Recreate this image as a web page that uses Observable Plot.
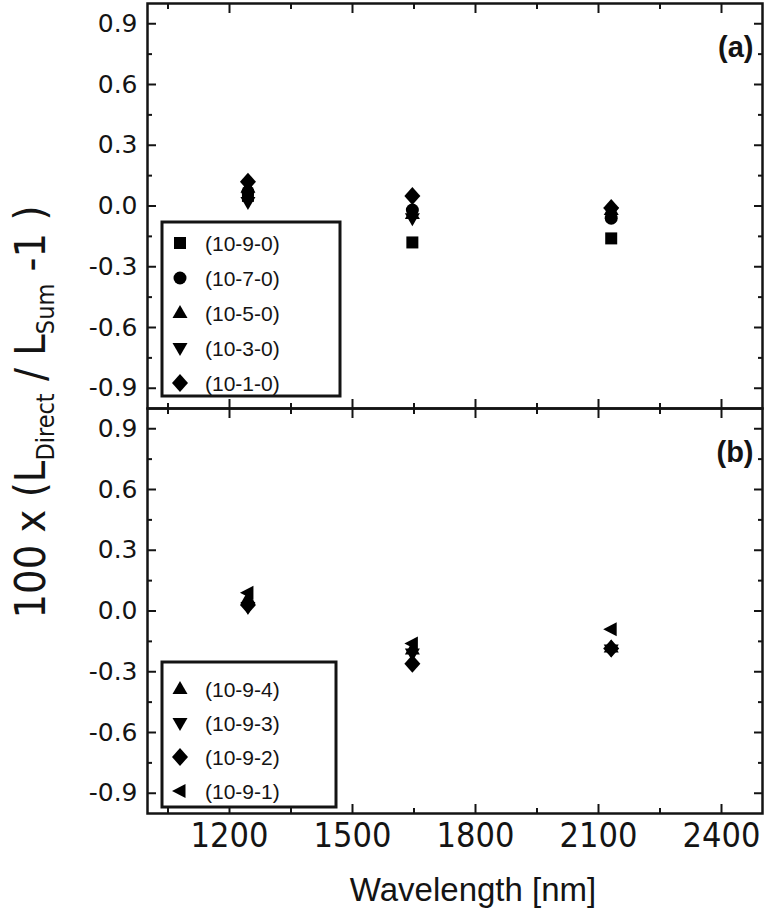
<!DOCTYPE html>
<html><head><meta charset="utf-8">
<script src="https://cdn.jsdelivr.net/npm/d3@7"></script>
<script src="https://cdn.jsdelivr.net/npm/@observablehq/plot@0.6"></script>
<style>
html,body{margin:0;padding:0;background:#fff;}
</style>
</head><body><div id="chart"></div>
<script>
// ---------- data ----------
const wavelengths = [1245, 1646, 2131];
const panelASeries = ["(10-9-0)", "(10-7-0)", "(10-5-0)", "(10-3-0)", "(10-1-0)"];
const panelAValues = [
  [0.05, -0.18, -0.16],
  [0.07, -0.02, -0.06],
  [0.09, -0.04, -0.02],
  [0.02, -0.06, -0.03],
  [0.12, 0.05, -0.01]
];
const panelBSeries = ["(10-9-4)", "(10-9-3)", "(10-9-2)", "(10-9-1)"];
const panelBValues = [
  [0.06, -0.19, -0.18],
  [0.02, -0.21, -0.19],
  [0.03, -0.26, -0.185],
  [0.09, -0.16, -0.09]
];
const panelLabels = ["(a)", "(b)"];
const xMajorTicks = [1200, 1500, 1800, 2100, 2400];
const xMinorTicks = [1050, 1350, 1650, 1950, 2250];
const yMajorTicks = [-0.9, -0.6, -0.3, 0.0, 0.3, 0.6, 0.9];
const yMinorTicks = [-0.75, -0.45, -0.15, 0.15, 0.45, 0.75];
const xLabel = "Wavelength [nm]";
const yLabelParts = ["100 x (L", "Direct", " / L", "Sum", " -1 )"];

// ---------- symbols ----------
const poly = pts => ({draw(c) { c.moveTo(pts[0][0], pts[0][1]); for (let i = 1; i < pts.length; i++) c.lineTo(pts[i][0], pts[i][1]); c.closePath(); }});
const symSquare = poly([[-6,-6],[6,-6],[6,6],[-6,6]]);
const symCircle = {draw(c) { c.moveTo(6.5, 0); c.arc(0, 0, 6.5, 0, 2 * Math.PI); }};
const symUp = poly([[0,-8],[7.5,5],[-7.5,5]]);
const symDown = poly([[0,8],[7.5,-5],[-7.5,-5]]);
const symDiamond = poly([[0,-9],[8,0],[0,9],[-8,0]]);
const symLeft = poly([[-8,0],[5.5,-7],[5.5,7]]);
const panelASymbols = [symSquare, symCircle, symUp, symDown, symDiamond];
const panelBSymbols = [symUp, symDown, symDiamond, symLeft];

const INK = "#141414";
const COND = "'DejaVu Sans Condensed', 'DejaVu Sans', sans-serif";
const SANS = "'Liberation Sans', Arial, sans-serif";

function seriesDots(panel, values, symbols) {
  return values.map((vals, k) => Plot.dot(
    wavelengths.map((w, i) => ({x: w, y: vals[i]})),
    {x: "x", y: "y", fy: () => panel, symbol: symbols[k], fill: "#000", stroke: "none", r: 5}
  ));
}

function inTicks(dim, anchor, ticks, size) {
  const o = {anchor, ticks, tickSize: size, tickFormat: () => "", facetAnchor: null, label: null, color: INK, strokeWidth: 2};
  if (anchor === "left") o.insetLeft = size;
  if (anchor === "right") o.insetRight = size;
  if (anchor === "top") o.insetTop = size;
  if (anchor === "bottom") o.insetBottom = size;
  return dim === "x" ? Plot.axisX(o) : Plot.axisY(o);
}

const plot = Plot.plot({
  width: 764, height: 913,
  marginLeft: 147, marginRight: 2, marginTop: 2, marginBottom: 100,
  x: {domain: [1000, 2500]},
  y: {domain: [-1, 1]},
  fy: {domain: ["a", "b"], padding: 0, axis: null},
  style: {background: "white", color: INK},
  marks: [
    inTicks("y", "left", yMajorTicks, 9),
    inTicks("y", "left", yMinorTicks, 5),
    inTicks("y", "right", yMajorTicks, 9),
    inTicks("y", "right", yMinorTicks, 5),
    inTicks("x", "bottom", xMajorTicks, 9),
    inTicks("x", "bottom", xMinorTicks, 5),
    inTicks("x", "top", xMajorTicks, 9),
    inTicks("x", "top", xMinorTicks, 5),
    Plot.axisY({ticks: yMajorTicks, tickSize: 0, tickPadding: 10, tickFormat: d => d.toFixed(1),
      facetAnchor: null, label: null, fontSize: 25, fontFamily: "'DejaVu Sans', sans-serif", color: INK}),
    Plot.axisX({ticks: xMajorTicks, tickSize: 0, tickPadding: 9, tickFormat: d => String(d),
      label: null, fontSize: 34, fontFamily: COND, color: INK}),
    Plot.frame({stroke: INK, strokeWidth: 2.5}),
    ...seriesDots("a", panelAValues, panelASymbols),
    ...seriesDots("b", panelBValues, panelBSymbols),
    Plot.text(panelLabels, {fy: d => d === "(a)" ? "a" : "b", frameAnchor: "top-right", textAnchor: "end",
      lineAnchor: "top", dx: -9, dy: 33, fontSize: 29, fontWeight: "bold", fontFamily: SANS, fill: INK}),
    Plot.text([xLabel], {fy: () => "b", frameAnchor: "bottom", lineAnchor: "bottom", dx: 18, dy: 87,
      fontSize: 33, fontFamily: SANS, fill: INK})
  ]
});

const svg = d3.select(plot);

// y-axis title with subscripts
const yt = svg.append("text")
  .attr("transform", "translate(45,412) rotate(-90)")
  .attr("text-anchor", "middle")
  .attr("font-family", COND).attr("font-size", 43).attr("fill", INK);
yt.append("tspan").text(yLabelParts[0]);
yt.append("tspan").attr("font-size", 25).attr("dy", 9).text(yLabelParts[1]);
yt.append("tspan").attr("dy", -9).text(yLabelParts[2]);
yt.append("tspan").attr("font-size", 25).attr("dy", 9).text(yLabelParts[3]);
yt.append("tspan").attr("dy", -9).text(yLabelParts[4]);

// legends
function legend(series, symbols, box, rows) {
  const g = svg.append("g");
  g.append("rect").attr("x", box[0]).attr("y", box[1]).attr("width", box[2]).attr("height", box[3])
    .attr("fill", "white").attr("stroke", INK).attr("stroke-width", 3);
  series.forEach((s, i) => {
    const y = rows[0] + i * rows[1];
    g.append("path").attr("d", d3.symbol(symbols[i])()).attr("transform", `translate(180,${y})`).attr("fill", "#000");
    g.append("text").attr("x", 205).attr("y", y).attr("dy", "0.36em").attr("text-anchor", "start")
      .attr("font-family", SANS).attr("font-size", 21).attr("fill", INK).text(s);
  });
}
legend(panelASeries, panelASymbols, [162, 222, 178, 174], [243, 35]);
legend(panelBSeries, panelBSymbols, [162, 662, 174, 145], [689, 34]);

document.getElementById("chart").appendChild(plot);
</script>
</body></html>
